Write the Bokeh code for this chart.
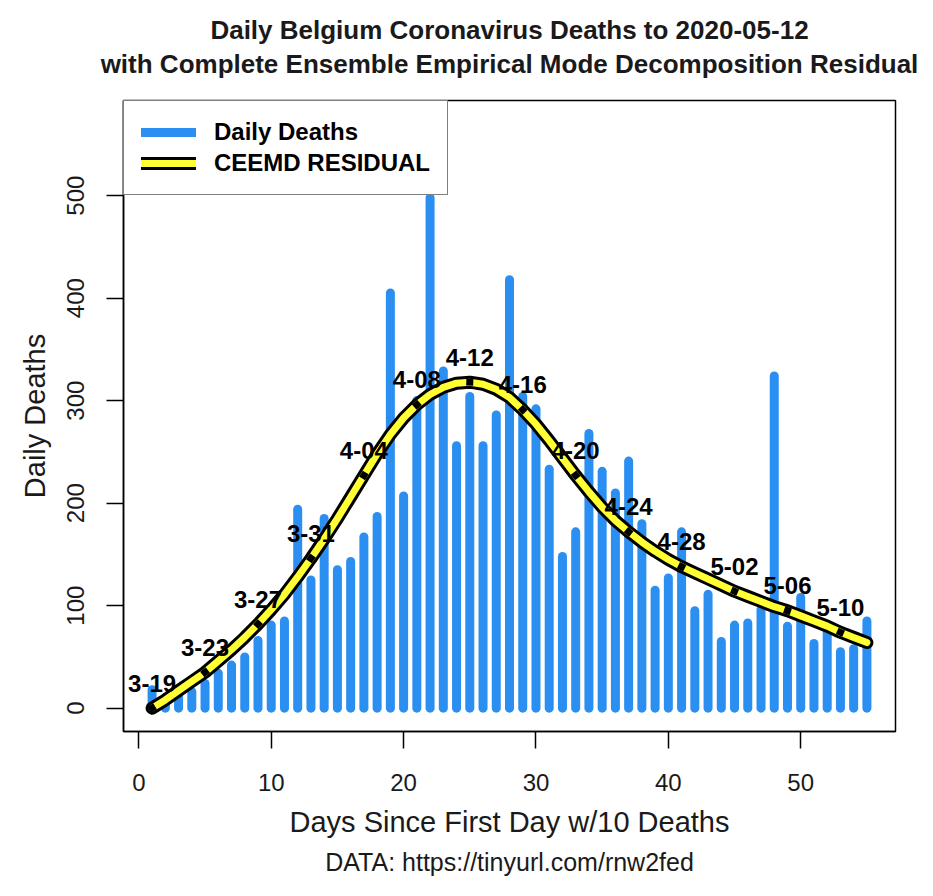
import math
from bokeh.plotting import figure
from bokeh.models import (Range1d, Title, Legend, LegendItem, FixedTicker,
                          LinearAxis)
from bokeh.core.properties import value
from bokeh.embed import file_html
from bokeh.resources import INLINE

# ---------------- data ----------------
days = list(range(1, 56))
daily_deaths = [18, 10, 14, 16, 24, 34, 42, 50, 66, 81,
                85, 194, 125, 185, 135, 143, 167, 187, 405, 207,
                300, 498, 329, 256, 304, 256, 286, 418, 304, 292,
                233, 148, 172, 268, 231, 210, 241, 180, 115, 127,
                172, 95, 111, 65, 81, 83, 96, 324, 80, 108,
                63, 75, 55, 58, 85]
ceemd_residual = [0, 8, 17, 26, 35, 46, 57, 69, 82, 96,
                  111, 128, 146, 165, 185, 206, 227, 248, 267, 283,
                  296, 306, 313, 317, 318, 316, 311, 303, 291, 277,
                  261, 244, 227, 211, 196, 183, 172, 162, 153, 145,
                  138, 132, 126, 120, 114, 109, 104, 99, 95, 90,
                  85, 80, 74, 69, 64]
label_days = [1, 5, 9, 13, 17, 21, 25, 29, 33, 37, 41, 45, 49, 53]
date_labels = ["3-19", "3-23", "3-27", "3-31", "4-04", "4-08", "4-12",
               "4-16", "4-20", "4-24", "4-28", "5-02", "5-06", "5-10"]
x_ticks = [0, 10, 20, 30, 40, 50]
y_ticks = [0, 100, 200, 300, 400, 500]

title_line1 = "Daily Belgium Coronavirus Deaths to 2020-05-12"
title_line2 = "with Complete Ensemble Empirical Mode Decomposition Residual"
x_label = "Days Since First Day w/10 Deaths"
y_label = "Daily Deaths"
source_note = "DATA: https://tinyurl.com/rnw2fed"

# ---------------- styling ----------------
FONT = "Liberation Sans"
BLUE = "#2b8ff2"
YELLOW = "#ffff33"
TXT = "#1a1a1a"

X0, X1 = -1.16, 57.16
Y0, Y1 = -22.8, 592.8
W, H = 917, 880
BL, BR, BT, BB = 123, 22, 100, 147

p = figure(width=W, height=H, output_backend="svg", toolbar_location=None,
           title=None,
           x_range=Range1d(X0, X1), y_range=Range1d(Y0, Y1),
           min_border_left=BL, min_border_right=BR,
           min_border_top=BT, min_border_bottom=BB)
p.xgrid.visible = False
p.ygrid.visible = False
p.outline_line_color = "black"
p.outline_line_width = 1.5
p.background_fill_color = "white"
p.border_fill_color = "white"

fw = W - BL - BR
fh = H - BT - BB
sx = fw / (X1 - X0)
sy = fh / (Y1 - Y0)

# bars drawn as thick round-capped vertical lines
bars = p.segment(x0=days, y0=[0] * len(days), x1=days, y1=daily_deaths,
                 line_color=BLUE, line_width=9, line_cap="round")

# residual curve: black casing with yellow core
outer = p.line(days, ceemd_residual, line_color="black", line_width=13,
               line_cap="round", line_join="round")
inner = p.line(days, ceemd_residual, line_color=YELLOW, line_width=7,
               line_cap="round", line_join="round")

# black marks at the labelled days, oriented along the curve
lab_y = []
angles = []
for d in label_days:
    i = d - 1
    lab_y.append(ceemd_residual[i])
    a = max(i - 1, 0)
    b = min(i + 1, len(days) - 1)
    slope = (ceemd_residual[b] - ceemd_residual[a]) / (days[b] - days[a])
    angles.append(math.atan(slope * sy / sx))
p.scatter(label_days, lab_y, marker="square", size=7, angle=angles,
          fill_color="black", line_color=None)

p.text(label_days, lab_y, text=date_labels, text_align="center",
       text_baseline="middle", y_offset=-25, text_font_size="24px",
       text_font_style="bold", text_font=value(FONT), text_color="black")

# axes
for ax in (p.xaxis[0], p.yaxis[0]):
    ax.major_tick_out = 17
    ax.major_tick_in = 0
    ax.minor_tick_out = 0
    ax.minor_tick_in = 0
    ax.axis_line_color = "black"
    ax.axis_line_width = 1.5
    ax.major_tick_line_color = "black"
    ax.major_tick_line_width = 1.5
    ax.major_label_text_font = FONT
    ax.major_label_text_font_size = "24px"
    ax.major_label_text_color = TXT
    ax.axis_label_text_font = FONT
    ax.axis_label_text_font_size = "29px"
    ax.axis_label_text_font_style = "normal"
    ax.axis_label_text_color = TXT

p.xaxis.ticker = FixedTicker(ticks=x_ticks)
p.yaxis.ticker = FixedTicker(ticks=y_ticks)
p.xaxis.major_label_standoff = 25
p.xaxis.axis_label = x_label
p.xaxis.axis_label_standoff = 12
p.yaxis.major_label_orientation = "vertical"
p.yaxis.major_label_standoff = 22
p.yaxis.axis_label = y_label
p.yaxis.axis_label_standoff = 14

# second title line: carried by a tick-less axis above the frame
sub_axis = LinearAxis(ticker=FixedTicker(ticks=[]), axis_line_color=None,
                      major_tick_out=0, major_tick_in=0,
                      minor_tick_out=0, minor_tick_in=0,
                      major_label_standoff=0,
                      axis_label=title_line2, axis_label_standoff=22,
                      axis_label_text_font=FONT,
                      axis_label_text_font_size="26px",
                      axis_label_text_font_style="bold",
                      axis_label_text_color=TXT)
p.add_layout(sub_axis, "above")

title = Title(text=title_line1, align="center", text_font=FONT,
              text_font_size="26px", text_font_style="bold",
              text_color=TXT, standoff=1)
p.add_layout(title, "above")

note = Title(text=source_note, align="center", text_font=FONT,
             text_font_size="25px", text_font_style="normal",
             text_color=TXT, standoff=10)
p.add_layout(note, "below")

# legend
legend = Legend(items=[LegendItem(label="Daily Deaths", renderers=[bars]),
                       LegendItem(label="CEEMD RESIDUAL", renderers=[outer, inner])],
                location="top_left", margin=0, padding=17, spacing=3,
                glyph_width=55, glyph_height=26, label_height=26,
                label_standoff=18, label_text_font=FONT,
                label_text_font_size="24px", label_text_font_style="bold",
                label_text_color="black",
                border_line_color="black", border_line_width=1.5,
                background_fill_color="white", background_fill_alpha=1.0)
p.add_layout(legend)

open("out.html", "w").write(file_html(p, INLINE))
